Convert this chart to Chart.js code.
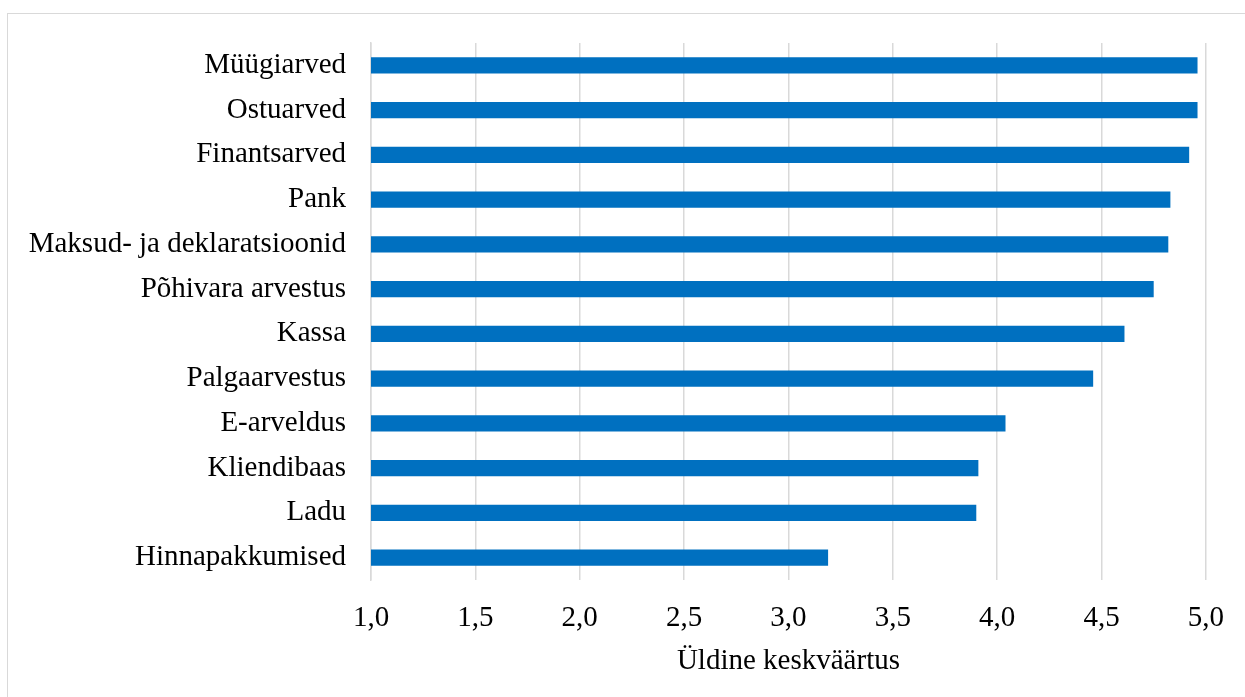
<!DOCTYPE html>
<html>
<head>
<meta charset="utf-8">
<script src="https://cdn.jsdelivr.net/npm/chart.js@4"></script>
<style>
  html, body { margin: 0; padding: 0; background: #fff; overflow: hidden; }
  #frame { position: absolute; left: 7px; top: 13px; width: 1260px; height: 720px; border: 1.5px solid #d9d9d9; }
  #wrap { position: absolute; left: 0; top: 0; width: 1245px; height: 697px; }
</style>
</head>
<body>
<div id="frame"></div>
<div id="wrap"><canvas id="myChart"></canvas></div>
<script>
const KATEGOORIAD = ['Müügiarved', 'Ostuarved', 'Finantsarved', 'Pank', 'Maksud- ja deklaratsioonid',
    'Põhivara arvestus', 'Kassa', 'Palgaarvestus', 'E-arveldus', 'Kliendibaas', 'Ladu', 'Hinnapakkumised'];
const KESKVAARTUS = [4.96, 4.96, 4.92, 4.83, 4.82, 4.75, 4.61, 4.46, 4.04, 3.91, 3.90, 3.19];
const X_MIN = 1, X_MAX = 5, X_SAMM = 0.5;
const TELJE_NIMI = 'Üldine keskväärtus';

const FONT = 'Liberation Serif, Times New Roman, serif';
const FONT_SIZE = 29;
var ctx = document.getElementById('myChart').getContext('2d');

var myChart = new Chart(ctx, {
    type: 'bar',
    data: {
        labels: KATEGOORIAD,
        datasets: [{
            data: KESKVAARTUS,
            backgroundColor: '#0070c0',
            borderWidth: 0,
            barPercentage: 0.36,
            categoryPercentage: 1
        }]
    },
    options: {
        indexAxis: 'y',
        responsive: true,
        maintainAspectRatio: false,
        animation: false,
        layout: { padding: { top: 43, right: 36, left: 0, bottom: 0 } },
        plugins: {
            legend: { display: false },
            tooltip: { enabled: false }
        },
        scales: {
            x: {
                min: X_MIN,
                max: X_MAX,
                afterFit: function(scale) { scale.height = 117; },
                ticks: {
                    stepSize: X_SAMM,
                    padding: 21,
                    color: '#000',
                    font: { family: FONT, size: FONT_SIZE },
                    callback: function(v) { return v.toFixed(1).replace('.', ','); }
                },
                grid: { color: '#d9d9d9', lineWidth: 1.5, drawTicks: false },
                border: { display: false },
                title: {
                    display: true,
                    text: TELJE_NIMI,
                    color: '#000',
                    font: { family: FONT, size: FONT_SIZE },
                    padding: { top: 4, bottom: 18 }
                }
            },
            y: {
                afterFit: function(scale) { scale.width = 371; },
                ticks: {
                    padding: 25,
                    color: '#000',
                    font: { family: FONT, size: FONT_SIZE }
                },
                grid: { display: false, drawTicks: false },
                border: { display: true, color: '#d9d9d9', width: 1.5 }
            }
        }
    }
});
</script>
</body>
</html>
